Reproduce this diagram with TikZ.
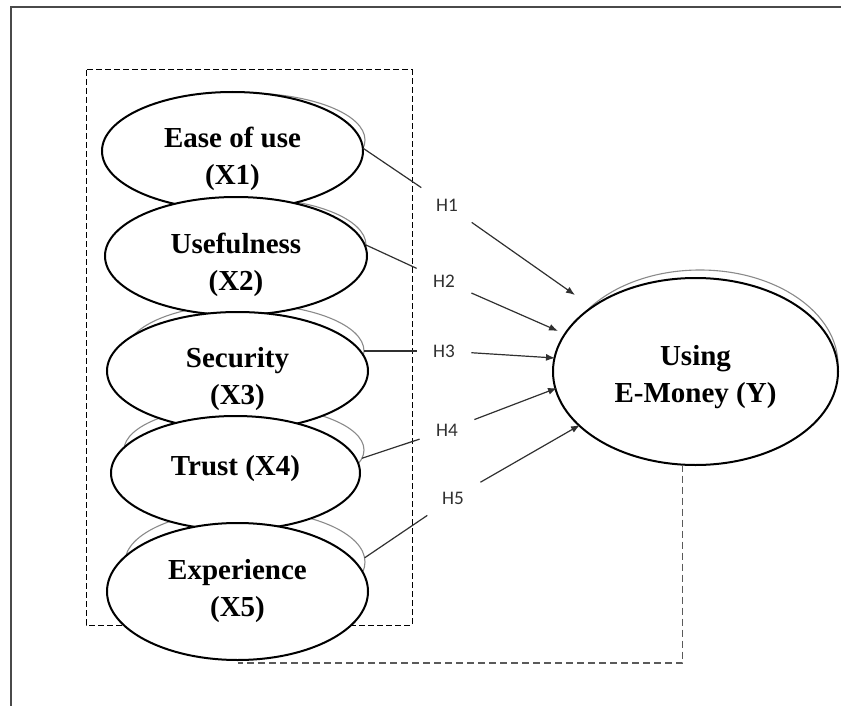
\documentclass[tikz,border=0pt]{standalone}
\usepackage{fontspec}
\setmainfont{Liberation Serif}
\newfontfamily\hfont{Carlito}
\usetikzlibrary{arrows.meta,shapes.geometric}
\definecolor{framegray}{HTML}{4A4A4A}
\definecolor{shadowgray}{HTML}{8A8A8A}
\definecolor{conngray}{HTML}{303030}
\definecolor{dashgray}{HTML}{5A5A5A}
\begin{document}
\begin{tikzpicture}[x=0.5pt,y=-0.5pt,
  var/.style={ellipse, draw=black, line width=1pt, fill=white, inner sep=0pt, outer sep=0pt,
    align=center, font=\fontsize{14.5}{18.5}\selectfont\bfseries},
  shad/.style={ellipse, draw=shadowgray, line width=0.55pt, inner sep=0pt, outer sep=0pt},
  hyp/.style={font=\hfont\fontsize{9.6}{11}\selectfont, text=conngray, minimum width=27pt,
    minimum height=17pt, inner sep=0pt},
  link/.style={draw=conngray, line width=0.6pt},
  arr/.style={link, -{Latex[length=4.5pt,width=3.5pt]}},
  box/.style={draw=black, line width=0.5pt, dash pattern=on 3pt off 1.5pt},
  feedback/.style={draw=dashgray, line width=0.7pt, dash pattern=on 3.5pt off 2pt},
  frame/.style={draw=framegray, line width=1pt}
]
\useasboundingbox (0,0) rectangle (841,706);
\draw[frame] (850,7) -- (11,7) -- (11,715);
\draw[box] (86,70) rectangle (412,625);

% shadow outlines
\node[shad, minimum width=120pt, minimum height=47pt] (s1) at (245,140) {};
\node[shad, minimum width=118pt, minimum height=47pt] (s2) at (248,245) {};
\node[shad, minimum width=118.5pt, minimum height=47pt] (s3) at (245.5,351) {};
\node[shad, minimum width=120pt, minimum height=45pt] (s4) at (244,450) {};
\node[shad, minimum width=120pt, minimum height=52pt] (s5) at (245,562) {};
\node[shad, minimum width=138pt, minimum height=95pt] (sy) at (700,365) {};

% variables
\node[var, minimum width=130.5pt, minimum height=59pt] (e1) at (232.5,151) {\rule{0pt}{18pt}Ease of use\\(X1)};
\node[var, minimum width=131pt, minimum height=59pt] (e2) at (236,256) {\rule{0pt}{19pt}Usefulness\\(X2)};
\node[var, minimum width=130.5pt, minimum height=59pt] (e3) at (237.5,371) {\rule{0pt}{18pt}Security\\(X3)};
\node[var, minimum width=124.5pt, minimum height=57pt] (e4) at (235.5,473) {\raisebox{8pt}{Trust (X4)}};
\node[var, minimum width=130.5pt, minimum height=68.5pt] (e5) at (237.5,591.5) {Experience\\(X5)};
\node[var, minimum width=142.5pt, minimum height=93.5pt] (y) at (695.5,371.5) {\rule{0pt}{16pt}Using\\E-Money (Y)};

% hypothesis labels
\node[hyp] (h1) at (447,205) {H1};
\node[hyp] (h2) at (444,281) {H2};
\node[hyp] (h3) at (444,351) {H3};
\node[hyp] (h4) at (447,430) {H4};
\node[hyp] (h5) at (453,498) {H5};

\coordinate (d1) at (575,295);
\coordinate (d2) at (558,331);
\coordinate (d3) at (555,358);
\coordinate (d4) at (557,388);
\coordinate (d5) at (580,425);

\draw[link] (s1.-4) -- (h1);
\draw[link] (s2.east) -- (h2);
\draw[link] (s3.east) -- (h3);
\draw[link] (s4.-4) -- (h4);
\draw[link] (s5.2) -- (h5);

\draw[arr] (h1) -- (d1);
\draw[arr] (h2) -- (d2);
\draw[arr] (h3) -- (d3);
\draw[arr] (h4) -- (d4);
\draw[arr] (h5) -- (d5);

\draw[feedback] (y.-98) |- ([yshift=-1.5pt]e5.south);
\end{tikzpicture}
\end{document}
